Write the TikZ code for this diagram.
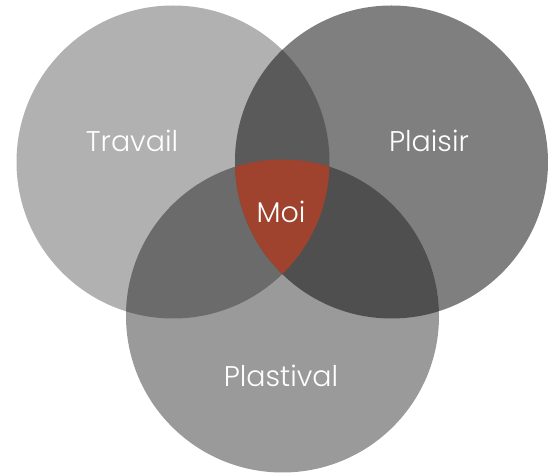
\documentclass[tikz,border=0pt]{standalone}
\usepackage{fontspec}
\setmainfont{Poppins Light}
\definecolor{travailgray}{HTML}{B1B1B1}
\definecolor{plaisirgray}{HTML}{7F7F7F}
\definecolor{plastivalgray}{HTML}{9A9A9B}
\definecolor{tpgray}{HTML}{5A5A5A}
\definecolor{tqgray}{HTML}{6A6B6A}
\definecolor{pqgray}{HTML}{4E4F4E}
\definecolor{moired}{HTML}{A0432E}
\tikzstyle{venntext}=[white,font=\fontsize{28.5}{32}\selectfont]

\begin{document}
\begin{tikzpicture}[x=1pt,y=1pt]
	\useasboundingbox (0,0) rectangle (558,474);
	\clip (0,0) rectangle (558,474);

	\coordinate (travail) at (173,312);
	\coordinate (plaisir) at (391.5,312);
	\coordinate (plastival) at (282.5,158);

	% the three sets
	\fill[travailgray] (travail) circle (156.5pt);
	\fill[plaisirgray] (plaisir) circle (156.5pt);
	\fill[plastivalgray] (plastival) circle (156.5pt);

	% overlaps
	\begin{scope}
		\clip (travail) circle (156.5pt);
		\fill[tpgray] (plaisir) circle (156.5pt);
		\fill[tqgray] (plastival) circle (156.5pt);
	\end{scope}
	\begin{scope}
		\clip (plaisir) circle (156.5pt);
		\fill[pqgray] (plastival) circle (156.5pt);
	\end{scope}
	\begin{scope}
		\clip (travail) circle (156.5pt);
		\clip (plaisir) circle (156.5pt);
		\fill[moired] (plastival) circle (156.5pt);
	\end{scope}

	% labels
	\node[venntext] (travail label) at (132,333) {Travail};
	\node[venntext] (plaisir label) at (429,333) {Plaisir};
	\node[venntext] (moi label) at (281,262) {Moi};
	\node[venntext] (plastival label) at (281,98) {Plastival};
\end{tikzpicture}
\end{document}
